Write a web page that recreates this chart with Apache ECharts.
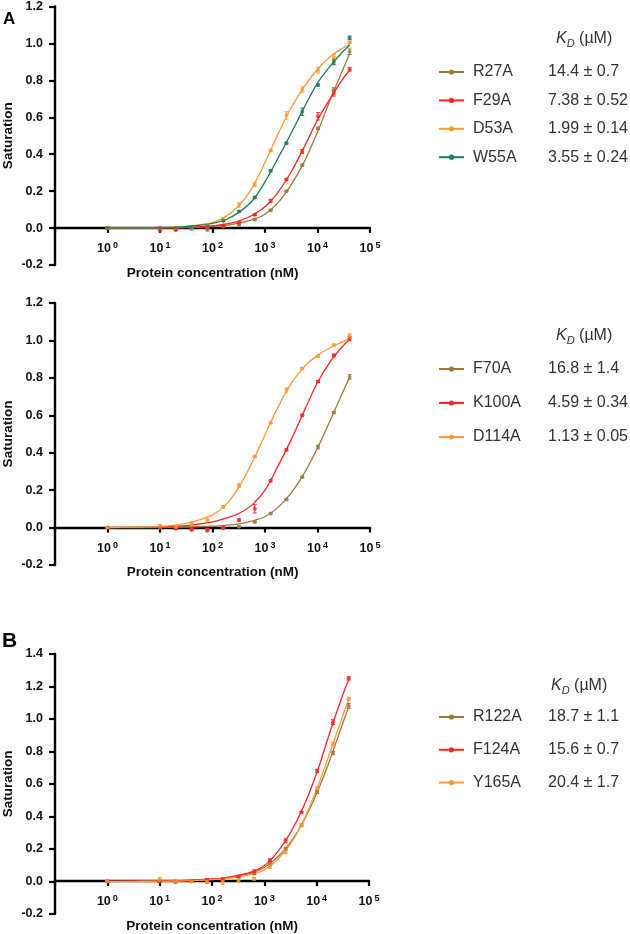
<!DOCTYPE html>
<html>
<head>
<meta charset="utf-8">
<script src="https://cdn.jsdelivr.net/npm/echarts@6/dist/echarts.min.js"></script>
<style>html,body{margin:0;padding:0;background:#fff}#c{width:630px;height:934px}</style>
</head>
<body>
<div id="c"></div>
<script>
// ---- data ----
const conc = [1, 10, 20, 40, 80, 160, 320, 640, 1280, 2560, 5120, 10240, 20480, 40960];
const fitX = [1, 3.16, 10, 31.6, 100, 178, 316, 562, 1000, 1778, 3162, 5623, 10000, 17783, 31623, 40960];
const yTicks1 = [-0.2, 1.2, 0.2];
const yTicks3 = [-0.2, 1.4, 0.2];

// Panel A (top)
const namesA = ['R27A', 'F29A', 'D53A', 'W55A'];
const kdA = ['14.4 ± 0.7', '7.38 ± 0.52', '1.99 ± 0.14', '3.55 ± 0.24'];
const R27A = [0, 0, -0.005, -0.005, -0.005, 0.009, 0.018, 0.047, 0.097, 0.2, 0.34, 0.54, 0.75, 0.955];
const R27A_err = [0.005, 0.004, 0.004, 0.004, 0.012, 0.004, 0.004, 0.004, 0.004, 0.004, 0.005, 0.006, 0.01, 0.015];
const R27A_fit = [0, 0, 0.001, 0.003, 0.009, 0.015, 0.027, 0.045, 0.075, 0.138, 0.235, 0.36, 0.52, 0.7, 0.87, 0.945];
const F29A = [0, -0.01, -0.01, 0, 0, 0.012, 0.03, 0.072, 0.147, 0.263, 0.415, 0.605, 0.73, 0.86];
const F29A_err = [0.004, 0.004, 0.004, 0.004, 0.004, 0.004, 0.004, 0.004, 0.008, 0.005, 0.01, 0.02, 0.015, 0.01];
const F29A_fit = [0, 0.001, 0.002, 0.004, 0.012, 0.022, 0.038, 0.068, 0.115, 0.195, 0.305, 0.44, 0.585, 0.705, 0.815, 0.855];
const D53A = [0, 0, 0, 0, 0.012, 0.048, 0.125, 0.236, 0.42, 0.61, 0.75, 0.855, 0.925, 1.005];
const D53A_err = [0.004, 0.004, 0.004, 0.004, 0.01, 0.01, 0.012, 0.01, 0.005, 0.02, 0.015, 0.015, 0.015, 0.005];
const D53A_fit = [0, 0.001, 0.003, 0.01, 0.03, 0.062, 0.12, 0.215, 0.355, 0.51, 0.653, 0.768, 0.86, 0.93, 0.978, 0.995];
const W55A = [0, 0, 0, 0.005, 0.01, 0.04, 0.09, 0.165, 0.31, 0.46, 0.63, 0.775, 0.9, 1.03];
const W55A_err = [0.004, 0.004, 0.004, 0.004, 0.004, 0.005, 0.005, 0.005, 0.005, 0.005, 0.02, 0.005, 0.015, 0.01];
const W55A_fit = [0, 0.001, 0.002, 0.008, 0.025, 0.045, 0.085, 0.145, 0.25, 0.38, 0.515, 0.655, 0.785, 0.88, 0.96, 0.99];

// Panel A (bottom)
const namesA2 = ['F70A', 'K100A', 'D114A'];
const kdA2 = ['16.8 ± 1.4', '4.59 ± 0.34', '1.13 ± 0.05'];
const F70A = [0, 0, -0.005, -0.01, -0.015, -0.005, 0.005, 0.03, 0.075, 0.15, 0.27, 0.43, 0.615, 0.805];
const F70A_err = [0.004, 0.004, 0.004, 0.008, 0.008, 0.004, 0.004, 0.004, 0.004, 0.004, 0.004, 0.01, 0.005, 0.012];
const F70A_fit = [0, 0, 0.001, 0.003, 0.007, 0.012, 0.02, 0.035, 0.058, 0.108, 0.185, 0.292, 0.425, 0.578, 0.735, 0.805];
const K100A = [0, 0, -0.005, -0.01, -0.01, 0, 0.04, 0.1, 0.25, 0.415, 0.6, 0.78, 0.92, 1.01];
const K100A_err = [0.004, 0.004, 0.004, 0.004, 0.004, 0.004, 0.006, 0.022, 0.005, 0.005, 0.005, 0.005, 0.008, 0.012];
const K100A_fit = [0, 0.001, 0.003, 0.01, 0.03, 0.05, 0.075, 0.12, 0.2, 0.33, 0.47, 0.625, 0.775, 0.89, 0.975, 1.005];
const D114A = [0, 0.01, 0.005, 0.02, 0.04, 0.11, 0.225, 0.38, 0.56, 0.735, 0.85, 0.915, 0.975, 1.025];
const D114A_err = [0.004, 0.005, 0.005, 0.008, 0.004, 0.008, 0.01, 0.005, 0.005, 0.012, 0.005, 0.005, 0.005, 0.01];
const D114A_fit = [0, 0.002, 0.006, 0.022, 0.068, 0.12, 0.215, 0.345, 0.495, 0.645, 0.77, 0.86, 0.92, 0.962, 0.995, 1.008];

// Panel B
const namesB = ['R122A', 'F124A', 'Y165A'];
const kdB = ['18.7 ± 1.1', '15.6 ± 0.7', '20.4 ± 1.7'];
const R122A = [0, 0, 0, 0, 0.005, 0.015, 0.03, 0.05, 0.11, 0.2, 0.345, 0.55, 0.79, 1.08];
const R122A_err = [0.005, 0.005, 0.005, 0.005, 0.008, 0.008, 0.006, 0.01, 0.01, 0.01, 0.008, 0.01, 0.01, 0.015];
const R122A_fit = [0, 0, 0.001, 0.004, 0.012, 0.02, 0.032, 0.05, 0.085, 0.148, 0.24, 0.37, 0.54, 0.745, 0.975, 1.075];
const F124A = [0, 0, -0.005, 0, 0.005, 0.01, 0.03, 0.06, 0.13, 0.25, 0.425, 0.68, 0.98, 1.25];
const F124A_err = [0.005, 0.005, 0.005, 0.005, 0.012, 0.005, 0.006, 0.01, 0.008, 0.012, 0.005, 0.01, 0.015, 0.01];
const F124A_fit = [0, 0.001, 0.002, 0.005, 0.014, 0.023, 0.036, 0.056, 0.097, 0.18, 0.3, 0.46, 0.665, 0.915, 1.15, 1.245];
const Y165A = [0, 0.01, 0, 0, -0.005, -0.005, 0.005, 0.015, 0.09, 0.18, 0.345, 0.575, 0.845, 1.125];
const Y165A_err = [0.005, 0.012, 0.005, 0.005, 0.008, 0.015, 0.01, 0.008, 0.01, 0.01, 0.008, 0.01, 0.012, 0.008];
const Y165A_fit = [0, 0, 0.001, 0.003, 0.01, 0.016, 0.026, 0.042, 0.07, 0.133, 0.23, 0.376, 0.565, 0.79, 1.02, 1.12];

// ---- styling ----
const BROWN = '#9c7a3c', RED = '#ff2525', ORANGE = '#ff9a36', GREEN = '#1f7a58';
const FONT = 'Liberation Sans, Arial, Helvetica, sans-serif';

const panels = [
  {names: namesA, kd: kdA, colors: [BROWN, RED, ORANGE, GREEN],
   data: [R27A, F29A, D53A, W55A], err: [R27A_err, F29A_err, D53A_err, W55A_err], fit: [R27A_fit, F29A_fit, D53A_fit, W55A_fit],
   grid: {left: 55, top: 5, width: 315, height: 260}, y: yTicks1,
   legend: {left: 438, top: 64, itemGap: 12.4}, kdPos: {left: 556, top: 29}},
  {names: namesA2, kd: kdA2, colors: [BROWN, RED, ORANGE],
   data: [F70A, K100A, D114A], err: [F70A_err, K100A_err, D114A_err], fit: [F70A_fit, K100A_fit, D114A_fit],
   grid: {left: 55, top: 303, width: 315, height: 262}, y: yTicks1,
   legend: {left: 438, top: 361, itemGap: 18}, kdPos: {left: 556, top: 326}},
  {names: namesB, kd: kdB, colors: [BROWN, RED, ORANGE],
   data: [R122A, F124A, Y165A], err: [R122A_err, F124A_err, Y165A_err], fit: [R122A_fit, F124A_fit, Y165A_fit],
   grid: {left: 55, top: 654, width: 314, height: 262}, y: yTicks3,
   legend: {left: 438, top: 709, itemGap: 16.8}, kdPos: {left: 551, top: 676}}
];

const grids = [], xAxes = [], yAxes = [], series = [], legends = [], titles = [];
const kdLookup = {};

panels.forEach((p, gi) => {
  grids.push(Object.assign({containLabel: false}, p.grid));
  // place the x axis on the y = 0 line
  const zeroOffset = -p.grid.height * (0 - p.y[0]) / (p.y[1] - p.y[0]);
  xAxes.push({
    type: 'log', logBase: 10, min: 0.1, max: 100000, splitNumber: 6, gridIndex: gi,
    position: 'bottom', offset: zeroOffset,
    name: 'Protein concentration (nM)', nameLocation: 'middle', nameGap: 38,
    nameTextStyle: {fontFamily: FONT, fontWeight: 'bold', fontSize: 13.5, color: '#111'},
    axisLine: {onZero: false, lineStyle: {color: '#000', width: 2.4}},
    axisTick: {show: true, inside: false, length: 5, lineStyle: {color: '#000', width: 2.2}},
    minorTick: {show: false}, splitLine: {show: false}, minorSplitLine: {show: false},
    axisLabel: {
      margin: 13,
      formatter: function (v) {
        const e = Math.round(Math.log10(v));
        if (e < 0) return '';
        return '{b|10}{s|' + e + '}';
      },
      rich: {
        b: {fontFamily: FONT, fontWeight: 'bold', fontSize: 12.5, color: '#111', lineHeight: 16},
        s: {fontFamily: FONT, fontWeight: 'bold', fontSize: 9, color: '#111', verticalAlign: 'top', lineHeight: 12, padding: [0, 0, 0, 2]}
      }
    }
  });
  yAxes.push({
    type: 'value', min: p.y[0], max: p.y[1], interval: p.y[2], gridIndex: gi,
    name: 'Saturation', nameLocation: 'middle', nameGap: 40,
    nameTextStyle: {fontFamily: FONT, fontWeight: 'bold', fontSize: 13.5, color: '#111'},
    axisLine: {show: true, onZero: false, lineStyle: {color: '#000', width: 2.4}},
    axisTick: {show: true, inside: false, length: 6, lineStyle: {color: '#000', width: 2.2}},
    splitLine: {show: false},
    axisLabel: {margin: 12, fontFamily: FONT, fontWeight: 'bold', fontSize: 12.5, color: '#111',
      formatter: v => v.toFixed(1)}
  });
  p.names.forEach((nm, si) => {
    kdLookup[nm] = p.kd[si];
    const col = p.colors[si];
    series.push({
      type: 'line', name: nm, xAxisIndex: gi, yAxisIndex: gi,
      data: fitX.map((x, k) => [x, p.fit[si][k]]),
      smooth: 0.35, symbol: 'circle', showSymbol: false, symbolSize: 5,
      lineStyle: {color: col, width: 1.3}, itemStyle: {color: col},
      silent: true, z: 2
    });
    series.push({
      type: 'custom', name: nm + ' error', xAxisIndex: gi, yAxisIndex: gi,
      data: conc.map((x, k) => [x, p.data[si][k], p.err[si][k]]),
      itemStyle: {color: col}, silent: true, z: 3,
      renderItem: function (params, api) {
        const x = api.value(0), y = api.value(1), e = api.value(2);
        const t = api.coord([x, y + e]), b = api.coord([x, y - e]);
        const st = {stroke: col, lineWidth: 1};
        const hw = 2;
        return {type: 'group', children: [
          {type: 'line', shape: {x1: t[0], y1: t[1], x2: b[0], y2: b[1]}, style: st},
          {type: 'line', shape: {x1: t[0] - hw, y1: t[1], x2: t[0] + hw, y2: t[1]}, style: st},
          {type: 'line', shape: {x1: b[0] - hw, y1: b[1], x2: b[0] + hw, y2: b[1]}, style: st}
        ]};
      }
    });
    series.push({
      type: 'scatter', name: nm + ' data', xAxisIndex: gi, yAxisIndex: gi,
      data: conc.map((x, k) => [x, p.data[si][k]]),
      symbol: 'circle', symbolSize: 4, itemStyle: {color: col}, silent: true, z: 4
    });
  });
  legends.push(Object.assign({
    data: p.names, orient: 'vertical', selectedMode: false, padding: 0,
    itemWidth: 25, itemHeight: 6.5,
    formatter: name => '{n|' + name + '}{v|' + kdLookup[name] + '}',
    textStyle: {
      rich: {
        n: {fontFamily: FONT, fontSize: 16, color: '#333', width: 75, padding: [0, 0, 0, 4], lineHeight: 18},
        v: {fontFamily: FONT, fontSize: 16, color: '#333', lineHeight: 18}
      }
    }
  }, p.legend));
  titles.push({
    text: '{k|K}{d|D}{u| (µM)}', left: p.kdPos.left, top: p.kdPos.top, padding: 0,
    textStyle: {fontWeight: 'normal', rich: {
      k: {fontFamily: FONT, fontSize: 16, fontStyle: 'italic', fontWeight: 'normal', color: '#333', lineHeight: 20},
      d: {fontFamily: FONT, fontSize: 11, fontStyle: 'italic', fontWeight: 'normal', color: '#333', lineHeight: 20, verticalAlign: 'bottom'},
      u: {fontFamily: FONT, fontSize: 16, fontWeight: 'normal', color: '#333', lineHeight: 20}
    }}
  });
});

titles.push({text: 'A', left: 3, top: 11, padding: 0, textStyle: {fontFamily: FONT, fontWeight: 'bold', fontSize: 17, color: '#000'}});
titles.push({text: 'B', left: 2, top: 631, padding: 0, textStyle: {fontFamily: FONT, fontWeight: 'bold', fontSize: 21, color: '#000'}});

const chart = echarts.init(document.getElementById('c'), null, {renderer: 'canvas'});
chart.setOption({
  animation: false,
  backgroundColor: '#fff',
  title: titles,
  grid: grids,
  xAxis: xAxes,
  yAxis: yAxes,
  legend: legends,
  series: series
});
</script>
</body>
</html>
